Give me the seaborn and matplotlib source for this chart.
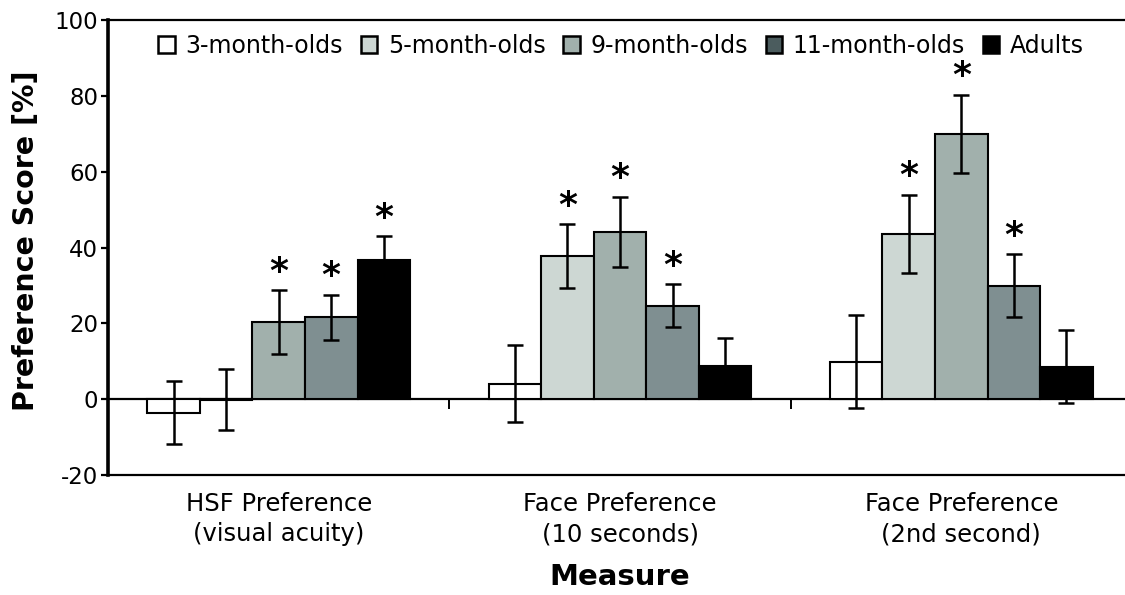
import matplotlib
matplotlib.use("Agg")
import matplotlib.pyplot as plt
from matplotlib.patches import Patch
import pandas as pd
import seaborn as sns

# Measures (x categories) and age groups (hue levels)
measures = [
    "HSF Preference\n(visual acuity)",
    "Face Preference\n(10 seconds)",
    "Face Preference\n(2nd second)",
]
groups = ["3-month-olds", "5-month-olds", "9-month-olds", "11-month-olds", "Adults"]

# Mean preference scores [%] per group, one value per measure
score_3m = [-3.6, 4.1, 9.9]
score_5m = [-0.1, 37.8, 43.6]
score_9m = [20.3, 44.1, 70.0]
score_11m = [21.6, 24.7, 29.9]
score_adult = [36.7, 8.8, 8.6]

# Error bar half-lengths
err_3m = [8.3, 10.2, 12.2]
err_5m = [8.0, 8.4, 10.3]
err_9m = [8.4, 9.3, 10.3]
err_11m = [6.0, 5.6, 8.3]
err_adult = [6.3, 7.4, 9.7]

# Significance markers (asterisks)
sig_3m = [False, False, False]
sig_5m = [False, True, True]
sig_9m = [True, True, True]
sig_11m = [True, True, True]
sig_adult = [True, False, False]

yticks = [-20, 0, 20, 40, 60, 80, 100]

scores = [score_3m, score_5m, score_9m, score_11m, score_adult]
errors = [err_3m, err_5m, err_9m, err_11m, err_adult]
sigs = [sig_3m, sig_5m, sig_9m, sig_11m, sig_adult]

bar_colors = ["#ffffff", "#cdd7d3", "#a1b0ac", "#7f8f91", "#000000"]
legend_colors = ["#ffffff", "#cdd7d3", "#a1b0ac", "#4b5c5e", "#000000"]

rows = []
for g, vals in zip(groups, scores):
    for m, v in zip(measures, vals):
        rows.append({"measure": m, "group": g, "score": v})
df = pd.DataFrame(rows)

sns.set_style("ticks")
plt.rcParams["font.family"] = ["DejaVu Sans"]
plt.rcParams["axes.unicode_minus"] = False
plt.rcParams["text.color"] = "black"
plt.rcParams["axes.labelcolor"] = "black"
plt.rcParams["xtick.color"] = "black"
plt.rcParams["ytick.color"] = "black"

fig = plt.figure(figsize=(11.25, 5.95), dpi=100)
ax = fig.add_axes([108 / 1125, 1 - 475 / 595, 1024 / 1125, 455 / 595])

sns.barplot(
    data=df, x="measure", y="score", hue="group",
    order=measures, hue_order=groups, palette=bar_colors, saturation=1,
    edgecolor="black", linewidth=1.5, width=0.77,
    errorbar=None, legend=False, ax=ax, zorder=2,
)

ymin, ymax = yticks[0], yticks[-1]
ax.set_ylim(ymin, ymax)
ax.set_xlim(-0.5, len(measures) - 0.5)

# Error bars and significance asterisks at each bar
for container, vals, errs, flags in zip(ax.containers, scores, errors, sigs):
    for bar, v, e, s in zip(container, vals, errs, flags):
        cx = bar.get_x() + bar.get_width() / 2
        ax.errorbar(cx, v, yerr=e, fmt="none", ecolor="black",
                    elinewidth=1.8, capsize=5.6, capthick=1.8, zorder=3)
        if s:
            ax.annotate("*", xy=(cx, v + e), xytext=(0, 6),
                        textcoords="offset points", ha="center",
                        va="baseline", fontsize=26, fontweight="bold")

# Zero line with ticks between the measure groups
zero_pos = (0 - ymin) / (ymax - ymin)
sec = ax.secondary_xaxis(zero_pos)
sec.set_xticks([i + 0.5 for i in range(len(measures) - 1)])
sec.tick_params(axis="x", direction="out", length=7, width=1.4,
                labelbottom=False, labeltop=False)
for sp in sec.spines.values():
    sp.set_linewidth(1.6)
    sp.set_color("black")

# Frame
ax.spines["right"].set_visible(False)
ax.spines["left"].set_linewidth(2.6)
ax.spines["top"].set_linewidth(1.6)
ax.spines["bottom"].set_linewidth(1.6)
for sp in ax.spines.values():
    sp.set_color("black")

ax.set_yticks(yticks)
ax.set_yticklabels([str(t) for t in yticks])
ax.tick_params(axis="y", left=True, direction="out", length=5, width=1.6,
               labelsize=16.5, pad=2)
ax.tick_params(axis="x", bottom=True, length=0, labelsize=17.5, pad=12)
for lbl in ax.get_xticklabels():
    lbl.set_linespacing(1.35)

ax.set_ylabel("Preference Score [%]", fontsize=20.5, fontweight="bold")
ax.yaxis.set_label_coords(-0.066, 0.515)
ax.set_xlabel("Measure", fontsize=21, fontweight="bold", labelpad=12)

handles = [Patch(facecolor=c, edgecolor="black", linewidth=1.8, label=g)
           for c, g in zip(legend_colors, groups)]
ax.legend(handles=handles, loc="center", bbox_to_anchor=(0.501, 0.943),
          ncol=5, frameon=False, fontsize=17, handlelength=0.7,
          handleheight=0.7, handletextpad=0.45, columnspacing=0.75,
          borderaxespad=0)

fig.savefig("out.png", dpi=100)
